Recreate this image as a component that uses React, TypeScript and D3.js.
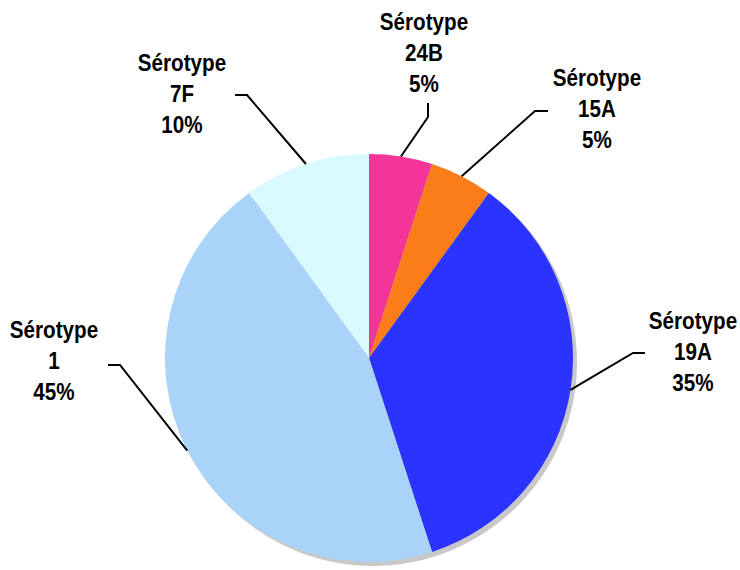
import React from "react";
import * as d3 from "d3";

const categories = ["24B", "15A", "19A", "1", "7F"];
const values = [5, 5, 35, 45, 10];
const colors = ["#F43598", "#FA7D1A", "#2A33FF", "#A9D3F8", "#D8F9FD"];
const titlePrefix = "Sérotype";

// label layout: text center x, first baseline y, elbow point, line end
const labelLayout = [
  { tx: 424, ty: 30, ex: 428, ey: 117, lx: 428, ly: 103 },
  { tx: 597, ty: 86, ex: 535, ey: 111, lx: 548, ly: 111 },
  { tx: 693, ty: 329, ex: 633, ey: 353, lx: 645, ly: 353 },
  { tx: 54, ty: 338, ex: 120, ey: 365, lx: 108, ly: 365 },
  { tx: 182, ty: 71, ex: 247, ey: 95, lx: 235, ly: 95 },
];

const W = 740;
const H = 570;
const cx = 369;
const cy = 358;
const R = 204;

export default function App() {
  const data = categories.map((c, i) => ({ c, v: values[i], i }));
  const pie = d3.pie<any>().value((d) => d.v).sort(null);
  const arcs = pie(data);
  const arc = d3.arc<any>().innerRadius(0).outerRadius(R);
  const lineGen = d3.line();
  const total = d3.sum(values);
  return (
    <svg
      width={W}
      height={H}
      style={{ position: "absolute", left: 0, top: 0, display: "block" }}
      fontFamily="'Liberation Sans', Arial, sans-serif"
    >
      <rect width={W} height={H} fill="#fff" />
      <circle cx={cx + 4} cy={cy + 4} r={R} fill="#c8c8c8" />
      <g transform={`translate(${cx},${cy})`}>
        {arcs.map((a, i) => (
          <path key={i} d={arc(a) || ""} fill={colors[i]} />
        ))}
      </g>
      {arcs.map((a, i) => {
        const mid = (a.startAngle + a.endAngle) / 2;
        const sx = cx + R * Math.sin(mid);
        const sy = cy - R * Math.cos(mid);
        const L = labelLayout[i];
        const pct = Math.round((a.data.v / total) * 100) + "%";
        const lines = [titlePrefix, a.data.c, pct];
        return (
          <g key={i}>
            <path
              d={lineGen([
                [sx, sy],
                [L.ex, L.ey],
                [L.lx, L.ly],
              ]) || ""}
              fill="none"
              stroke="#000"
              strokeWidth={2}
            />
            {lines.map((t, j) => (
              <text
                key={j}
                transform={`translate(${L.tx},${L.ty + j * 31}) scale(0.86,1)`}
                textAnchor="middle"
                fontSize={24}
                fontWeight="bold"
                fill="#000"
              >
                {t}
              </text>
            ))}
          </g>
        );
      })}
    </svg>
  );
}
